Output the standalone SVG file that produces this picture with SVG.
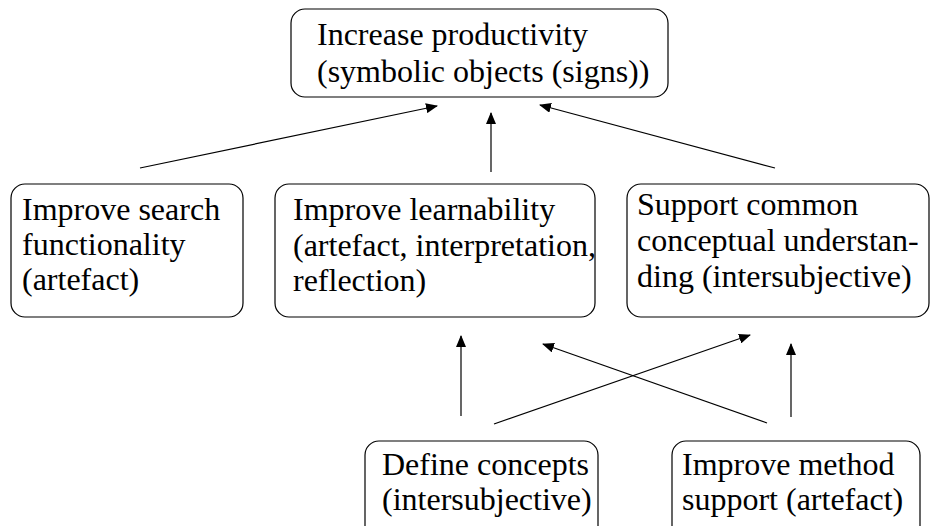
<svg xmlns="http://www.w3.org/2000/svg" width="930" height="526" viewBox="0 0 930 526">
<defs>
<style>
.box{fill:#fff;stroke:#000;stroke-width:1.2}
text{font-family:'Liberation Serif',serif;font-size:32px;fill:#000}
.c line{stroke:#000;stroke-width:1.2;marker-end:url(#ah)}
</style>
<marker id="ah" markerWidth="12" markerHeight="10" refX="11" refY="5" orient="auto" markerUnits="userSpaceOnUse">
<path d="M0,0 L12,5 L0,10 Z" fill="#000"/>
</marker>
</defs>
<rect width="930" height="526" fill="#fff"/>
<g id="n-top" font-family="Liberation Serif, serif">
<rect class="box" x="291" y="9" width="377" height="88" rx="14"/>
<text x="317" y="45">Increase productivity</text>
<text x="317" y="82">(symbolic objects (signs))</text>
</g>
<g id="n-search" font-family="Liberation Serif, serif">
<rect class="box" x="11" y="184" width="232" height="133" rx="14"/>
<text x="22" y="220">Improve search</text>
<text x="22" y="255">functionality</text>
<text x="22" y="290">(artefact)</text>
</g>
<g id="n-learn" font-family="Liberation Serif, serif">
<rect class="box" x="275" y="184" width="320" height="133" rx="14"/>
<text x="293" y="220">Improve learnability</text>
<text x="293" y="256">(artefact, interpretation,</text>
<text x="293" y="291">reflection)</text>
</g>
<g id="n-common" font-family="Liberation Serif, serif">
<rect class="box" x="627" y="184" width="302" height="133" rx="14"/>
<text x="637" y="215">Support common</text>
<text x="637" y="251">conceptual understan-</text>
<text x="637" y="287">ding (intersubjective)</text>
</g>
<g id="n-define" font-family="Liberation Serif, serif">
<rect class="box" x="365" y="441" width="233" height="110" rx="14"/>
<text x="382" y="475">Define concepts</text>
<text x="382" y="510">(intersubjective)</text>
</g>
<g id="n-method" font-family="Liberation Serif, serif">
<rect class="box" x="672" y="441" width="248" height="110" rx="14"/>
<text x="682" y="475">Improve method</text>
<text x="682" y="510">support (artefact)</text>
</g>
<g id="connectors" class="c">
<line x1="140" y1="168" x2="437" y2="106"/>
<line x1="491" y1="172" x2="491" y2="113"/>
<line x1="775" y1="168" x2="540" y2="105"/>
<line x1="461" y1="416" x2="461" y2="336"/>
<line x1="494" y1="424" x2="750" y2="335"/>
<line x1="767" y1="423" x2="543" y2="344"/>
<line x1="791" y1="417" x2="791" y2="344"/>
</g>
</svg>
